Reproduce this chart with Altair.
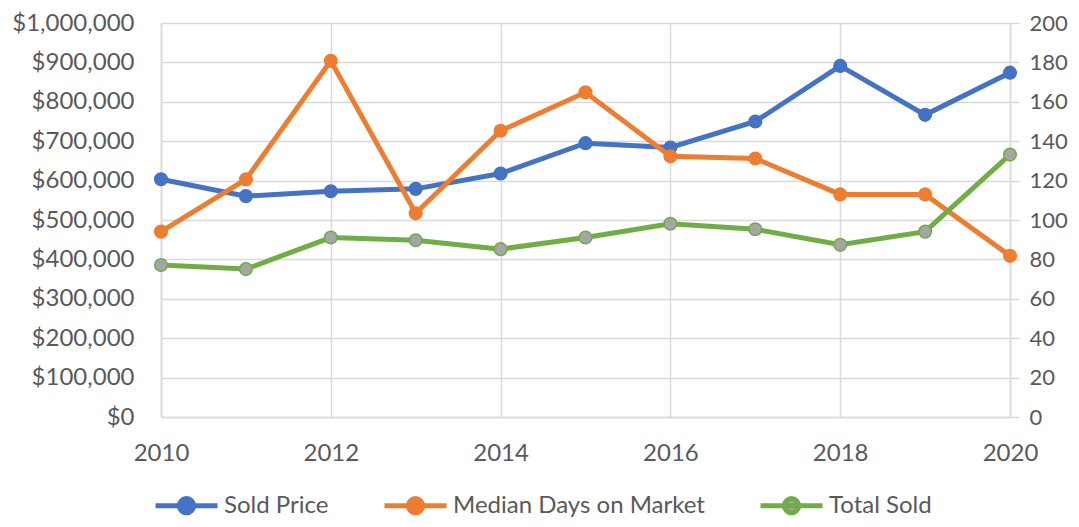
import altair as alt
import pandas as pd

years = list(range(2010, 2021))
series_names = ["Sold Price", "Median Days on Market", "Total Sold"]
sold_price = [603500, 560600, 573000, 579000, 618000, 695000, 684000, 750000, 891000, 767000, 874000]
median_days = [94.1, 120.6, 180.8, 103.4, 145.3, 164.8, 132.3, 131.2, 113.0, 113.0, 81.8]
total_sold = [77.1, 75.1, 91.1, 89.7, 85.2, 91.1, 98.1, 95.3, 87.4, 94.1, 133.2]

x_ticks = [2010, 2012, 2014, 2016, 2018, 2020]
left_ticks = list(range(0, 1000001, 100000))
right_ticks = list(range(0, 201, 20))

stroke_colors = ["#4472C4", "#ED7D31", "#70AD47"]
fill_colors = ["#4472C4", "#ED7D31", "#A5A5A5"]

rows = []
for name, vals in zip(series_names, [sold_price, median_days, total_sold]):
    for y, v in zip(years, vals):
        rows.append({"year": y, "series": name, "value": v})
df = pd.DataFrame(rows)

FONT = "Lato"
GRAY = "#D9D9D9"
TEXT = "#595959"
FS = 23

legend = alt.Legend(
    title=None, orient="none", direction="horizontal",
    legendX=-8, legendY=449,
    symbolType="M-1,0L1,0M-0.23,0A0.23,0.23 0 1,1 0.23,0A0.23,0.23 0 1,1 -0.23,0Z",
    symbolSize=3844, symbolStrokeWidth=5,
    labelFont=FONT, labelFontSize=24, labelColor=TEXT, labelLimit=500,
    columnPadding=45, labelOffset=4, padding=0,
)

stroke_enc = alt.Stroke("series:N", scale=alt.Scale(domain=series_names, range=stroke_colors), legend=legend)
fill_enc = alt.Fill("series:N", scale=alt.Scale(domain=series_names, range=fill_colors), legend=legend)

x_enc = alt.X("year:Q", scale=alt.Scale(domain=[2010, 2020], nice=False, zero=False),
              axis=alt.Axis(values=x_ticks, format="d", title=None, grid=True, ticks=False,
                            labelPadding=24, labelFlush=False, labelFontSize=24))

base = alt.Chart(df).encode(x=x_enc)

y_left = alt.Y("value:Q", scale=alt.Scale(domain=[0, 1000000], nice=False),
               axis=alt.Axis(values=left_ticks, format="$,.0f", title=None, grid=True,
                             ticks=False, labelPadding=27, orient="left", labelFontSize=24))
y_right = alt.Y("value:Q", scale=alt.Scale(domain=[0, 200], nice=False),
                axis=alt.Axis(values=right_ticks, title=None, grid=False, ticks=True,
                              tickSize=9, tickColor=GRAY, tickWidth=1.5,
                              labelPadding=10, orient="right", labelFontSize=22))

left_data = base.transform_filter(alt.datum.series == "Sold Price")
right_data = base.transform_filter(alt.datum.series != "Sold Price")

left = alt.layer(
    left_data.mark_line(strokeWidth=5).encode(y=y_left, stroke=stroke_enc),
    left_data.mark_point(shape="circle", filled=True, size=160, strokeWidth=1.5, opacity=1)
    .encode(y=y_left, stroke=stroke_enc, fill=fill_enc),
)
right = alt.layer(
    right_data.mark_line(strokeWidth=5).encode(y=y_right, stroke=stroke_enc, detail="series:N"),
    right_data.mark_point(shape="circle", filled=True, size=160, strokeWidth=1.5, opacity=1)
    .encode(y=y_right, stroke=stroke_enc, fill=fill_enc),
)

chart = (
    alt.layer(left, right)
    .resolve_scale(y="independent")
    .properties(
        width=849, height=394,
        padding={"left": 153, "top": 15, "right": 60, "bottom": 102},
        autosize=alt.AutoSizeParams(type="none"),
    )
    .configure_view(stroke=None)
    .configure_axis(
        labelFont=FONT, labelFontSize=FS, labelColor=TEXT,
        domainColor=GRAY, domainWidth=1.5, gridColor=GRAY, gridWidth=1.5,
    )
)

chart.save("out.html", embed_options={"renderer": "svg", "actions": False})
